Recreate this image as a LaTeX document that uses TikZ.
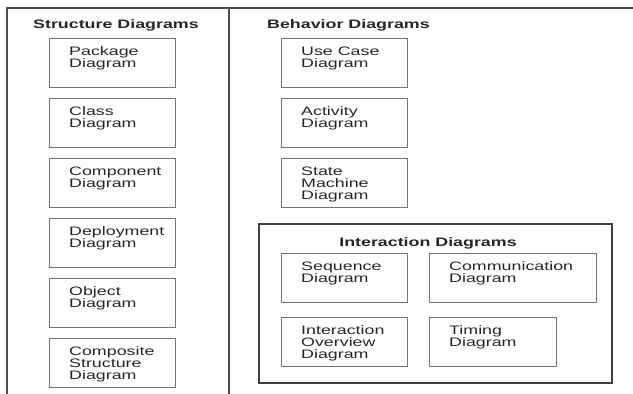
\documentclass[tikz,border=0pt]{standalone}
\usepackage{fontspec}
\setmainfont{Liberation Sans}[FakeStretch=1.45]
\begin{document}
\begin{tikzpicture}[x=1pt,y=-1pt,
  frame/.style={draw=black!70,line width=1.8pt},
  group/.style={draw=black!75,line width=1.6pt},
  diag/.style={draw=black!55,line width=0.9pt,minimum width=126pt,minimum height=49pt,
    anchor=north west,inner sep=0pt},
  wdiag/.style={diag,minimum width=167pt},
  label/.style={anchor=north west,inner sep=0pt,align=left,font=\fontsize{12.3}{12}\selectfont,
    text=black!85},
  head/.style={anchor=base west,inner sep=0pt,font=\fontsize{12.3}{12}\selectfont\bfseries,
    text=black!85}]
\useasboundingbox (0,0) rectangle (633,394);

% outer frame, open to the right and below, and the divider between the panels
\coordinate (fbl) at (7,396);
\coordinate (ftl) at (7,8);
\coordinate (ftr) at (635,8);
\coordinate (dtop) at (229,8);
\coordinate (dbot) at (229,396);
\draw[frame] (fbl) -- (ftl) -- (ftr);
\draw[frame] (dtop) -- (dbot);

% structure diagrams
\node[head] (shead) at (33,28.5) {Structure Diagrams};
\newcommand\diagbox[4]{%
  \node[diag,#4] (#1) at #2 {};
  \node[label] (#1t) at ([xshift=20pt,yshift=-8pt]#1.north west) {\rule{0pt}{9pt}#3};}
\diagbox{pkg}{(49,38)}{Package\\Diagram}{}
\diagbox{cls}{(49,98)}{Class\\Diagram}{}
\diagbox{cmp}{(49,158)}{Component\\Diagram}{}
\diagbox{dep}{(49,218)}{Deployment\\Diagram}{}
\diagbox{obj}{(49,278)}{Object\\Diagram}{}
\diagbox{csd}{(49,338)}{Composite\\Structure\\Diagram}{}

% behavior diagrams
\node[head] (bhead) at (267,28.5) {Behavior Diagrams};
\diagbox{uc}{(281,38)}{Use Case\\Diagram}{}
\diagbox{act}{(281,98)}{Activity\\Diagram}{}
\diagbox{stm}{(281,158)}{State\\Machine\\Diagram}{}

% interaction diagrams group
\node[group,anchor=north west,minimum width=353pt,minimum height=159pt,inner sep=0pt] (inter) at (258,223) {};
\node[head,anchor=base] (ihead) at (428,246.5) {Interaction Diagrams};
\diagbox{seq}{(281,253)}{Sequence\\Diagram}{}
\diagbox{com}{(429,253)}{Communication\\Diagram}{wdiag}
\diagbox{iod}{(281,317)}{Interaction\\Overview\\Diagram}{}
\diagbox{tim}{(429,317)}{Timing\\Diagram}{minimum width=127pt}
\end{tikzpicture}
\end{document}
